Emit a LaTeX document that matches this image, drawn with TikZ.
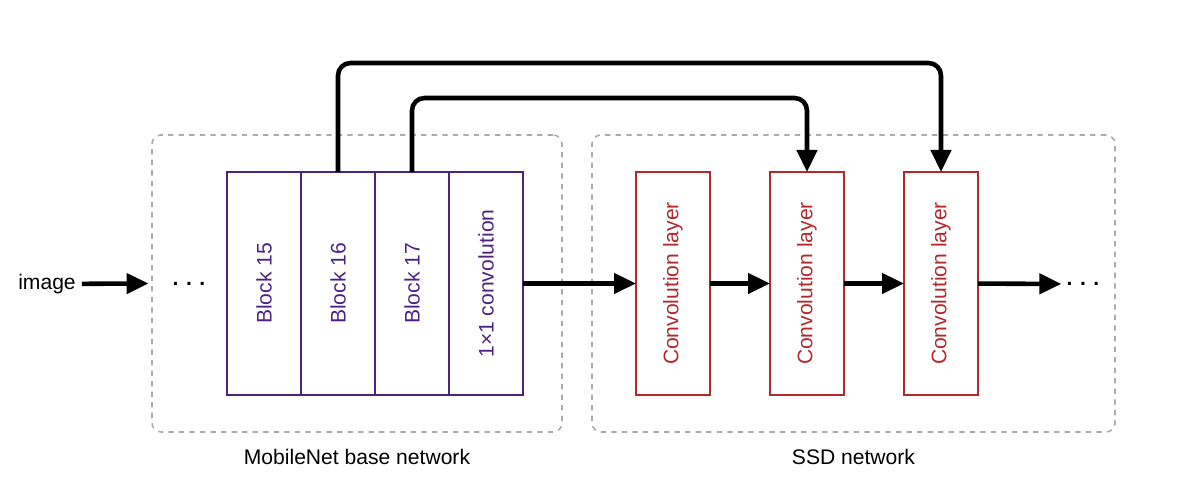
\documentclass[tikz,border=0pt]{standalone}
\usepackage{fontspec}
\setmainfont{Liberation Sans}
\usetikzlibrary{arrows.meta, positioning}
\definecolor{plum}{HTML}{4B2384}
\definecolor{brick}{HTML}{B3282D}
\definecolor{mist}{HTML}{ABABAB}

\begin{document}
\begin{tikzpicture}[
    every node/.style={font=\fontsize{12}{14}\selectfont},
    group/.style={rectangle, rounded corners=0.18cm, draw=mist, line width=0.9pt,
                  dash pattern=on 3pt off 3pt},
    block/.style={rectangle, draw=plum, line width=1.1pt, text=plum, outer sep=0pt,
                  minimum width=1.48cm, minimum height=4.46cm},
    layer/.style={block, draw=brick, text=brick},
    dots/.style={font=\fontsize{12}{14}\selectfont\bfseries, inner sep=0.1cm},
    arrow/.style={-{Triangle[length=0.44cm, width=0.4cm]}, line width=2.6pt},
    skip/.style={arrow, rounded corners=0.25cm}
  ]
    \useasboundingbox (0,0) rectangle (23.54,10);
    \node[group, minimum width=8.2cm, minimum height=5.94cm] (mobile) at (7.14,4.33) {};
    \node[group, minimum width=10.46cm, minimum height=5.94cm] (ssdnet) at (17.07,4.33) {};
    \node[below=0.2cm of mobile] (mobilelbl) {MobileNet base network};
    \node[below=0.2cm of ssdnet] (ssdlbl) {SSD network};

    \node[block] (b15) at (5.28,4.33) {\rotatebox{90}{Block 15}};
    \node[block, right=0pt of b15] (b16) {\rotatebox{90}{Block 16}};
    \node[block, right=0pt of b16] (b17) {\rotatebox{90}{Block 17}};
    \node[block, right=0pt of b17] (conv) {\rotatebox{90}{1×1 convolution}};

    \node[layer] (ssd1) at (13.46,4.33) {\rotatebox{90}{Convolution layer}};
    \node[layer, right=1.2cm of ssd1] (ssd2) {\rotatebox{90}{Convolution layer}};
    \node[layer, right=1.2cm of ssd2] (ssd3) {\rotatebox{90}{Convolution layer}};

    \node (img) at (0.94,4.32) {image};
    \node[dots] (dotsin) at (3.78,4.32) {.\hspace{0.15cm}.\hspace{0.15cm}.};
    \node[dots] (dotsout) at (21.66,4.32) {.\hspace{0.15cm}.\hspace{0.15cm}.};

    \draw[arrow, shorten >=1.5pt] (img) -- (mobile.west);
    \draw[arrow] (conv) -- (ssd1);
    \draw[arrow] (ssd1) -- (ssd2);
    \draw[arrow] (ssd2) -- (ssd3);
    \draw[arrow] (ssd3) -- (dotsout);
    \draw[skip] (b16.north) -- ++(0,2.18) -| (ssd3.north);
    \draw[skip] (b17.north) -- ++(0,1.48) -| (ssd2.north);
  \end{tikzpicture}
\end{document}
